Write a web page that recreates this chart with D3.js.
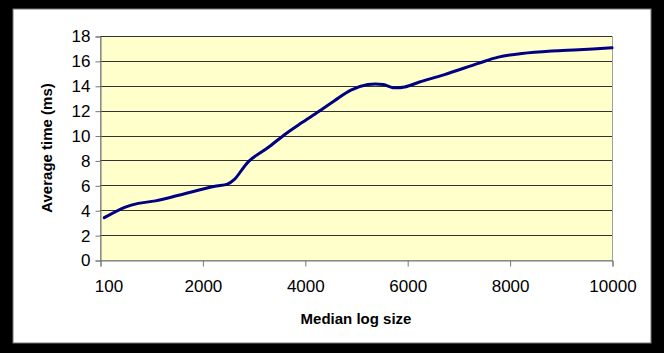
<!DOCTYPE html>
<html>
<head>
<meta charset="utf-8">
<script src="https://cdn.jsdelivr.net/npm/d3@7"></script>
<style>
  html, body { margin: 0; padding: 0; background: #000; }
  svg { display: block; }
</style>
</head>
<body>
<script>
// Data
const logSize = [180, 570, 810, 1130, 1560, 2220, 2490, 2620, 2910, 3270, 3630, 3930, 4280, 4580, 4900, 5230, 5530, 5720, 5950, 6240, 6730, 7390, 7780, 8240, 8820, 9350, 10000];
const avgTime = [3.4, 4.25, 4.55, 4.75, 5.2, 5.9, 6.1, 6.45, 7.95, 9.0, 10.15, 11.0, 11.95, 12.8, 13.65, 14.1, 14.1, 13.85, 13.9, 14.3, 14.9, 15.8, 16.3, 16.6, 16.8, 16.9, 17.05];
const xTickLabels = [100, 2000, 4000, 6000, 8000, 10000];
const yTickLabels = [0, 2, 4, 6, 8, 10, 12, 14, 16, 18];
const xTitle = "Median log size";
const yTitle = "Average time (ms)";

const W = 664, H = 353;
const plot = { left: 100, right: 612, top: 36, bottom: 260 };
const FONT = "Liberation Sans, Arial, sans-serif";

const svg = d3.select("body").append("svg").attr("width", W).attr("height", H);

// frame: black border with white interior
svg.append("rect").attr("x", 0).attr("y", 0).attr("width", W).attr("height", H).attr("fill", "#000");
svg.append("rect").attr("x", 13).attr("y", 9).attr("width", 638).attr("height", 334).attr("fill", "#fff")
  .attr("stroke", "#777").attr("stroke-width", 1);

const x = d3.scaleLinear().domain([100, 2000, 10000]).range([plot.left, plot.left + (plot.right - plot.left) / 5, plot.right]);
const y = d3.scaleLinear().domain([0, 18]).range([plot.bottom, plot.top]);

// plot area
svg.append("rect")
  .attr("x", plot.left + 0.5).attr("y", plot.top + 0.5)
  .attr("width", plot.right - plot.left).attr("height", plot.bottom - plot.top)
  .attr("fill", "#FFFFCC").attr("stroke", "#a0a0a0").attr("stroke-width", 1);

// gridlines
svg.append("g").selectAll("line").data(yTickLabels.filter(d => d > 0)).join("line")
  .attr("x1", plot.left).attr("x2", plot.right)
  .attr("y1", d => Math.round(y(d)) + 0.5).attr("y2", d => Math.round(y(d)) + 0.5)
  .attr("stroke", "#333").attr("stroke-width", 1);

// y axis
const yAxis = d3.axisLeft(y).tickValues(yTickLabels).tickSize(5).tickPadding(5).tickFormat(d3.format("d"));
const gy = svg.append("g").attr("transform", `translate(${plot.left + 0.5},0.5)`).call(yAxis);
gy.select(".domain").attr("stroke", "#777");
gy.selectAll(".tick line").attr("stroke", "#777");
gy.selectAll("text").attr("font-family", FONT).attr("font-size", 17).attr("fill", "#000");

// x axis
const xAxis = d3.axisBottom(x).tickValues(xTickLabels).tickSize(6).tickPadding(13).tickFormat(d3.format("d"));
const gx = svg.append("g").attr("transform", `translate(0.5,${plot.bottom + 0.5})`).call(xAxis);
gx.select(".domain").attr("stroke", "#777");
gx.selectAll(".tick line").attr("stroke", "#777");
gx.selectAll("text").attr("font-family", FONT).attr("font-size", 17).attr("fill", "#000");
gx.selectAll(".tick text").filter(d => d === xTickLabels[0]).attr("dx", 8);

// line
const line = d3.line()
  .x((d, i) => x(logSize[i]))
  .y(d => y(d))
  .curve(d3.curveCatmullRom.alpha(0.5));
svg.append("path").datum(avgTime)
  .attr("d", line)
  .attr("fill", "none")
  .attr("stroke", "#000080")
  .attr("stroke-width", 3)
  .attr("stroke-linejoin", "round")
  .attr("stroke-linecap", "round");

// titles
svg.append("text")
  .attr("x", (plot.left + plot.right) / 2).attr("y", 324)
  .attr("text-anchor", "middle")
  .attr("font-family", FONT).attr("font-size", 15).attr("font-weight", "bold")
  .text(xTitle);
svg.append("text")
  .attr("transform", `translate(52,${(plot.top + plot.bottom) / 2}) rotate(-90)`)
  .attr("text-anchor", "middle")
  .attr("font-family", FONT).attr("font-size", 15).attr("font-weight", "bold")
  .text(yTitle);
</script>
</body>
</html>
